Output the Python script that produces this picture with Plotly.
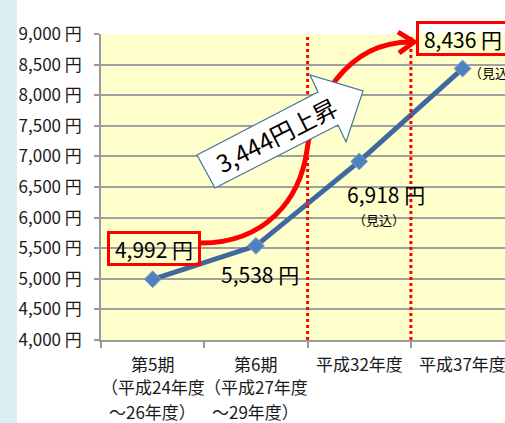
import plotly.graph_objects as go

# ---------------- data ----------------
categories = ["第5期", "第6期", "平成32年度", "平成37年度"]
category_lines = [
    ["第5期", "（平成24年度", "～26年度）"],
    ["第6期", "（平成27年度", "～29年度）"],
    ["平成32年度"],
    ["平成37年度"],
]
values = [4992, 5538, 6918, 8436]
value_labels = ["4,992 円", "5,538 円", "6,918 円", "8,436 円"]
ytick_vals = [4000, 4500, 5000, 5500, 6000, 6500, 7000, 7500, 8000, 8500, 9000]
ytick_text = ["4,000 円", "4,500 円", "5,000 円", "5,500 円", "6,000 円", "6,500 円",
              "7,000 円", "7,500 円", "8,000 円", "8,500 円", "9,000 円"]
increase_text = "3,444円上昇"
estimate_text = "（見込）"

# ---------------- layout geometry (pixels) ----------------
W, H = 505, 423
L, T, B = 101, 34, 83
PW, PH = W - L, H - T - B


def px(x):
    return (x - L) / PW


def py(y):
    return (H - B - y) / PH


FONT = "Noto Sans CJK JP"
RED = "#FF0000"

fig = go.Figure()
fig.add_trace(go.Scatter(
    x=list(range(len(categories))), y=values, mode="lines+markers",
    line=dict(color="#3E689E", width=5),
    marker=dict(symbol="diamond", size=13, color="#4F81BD",
                line=dict(color="#7FA3D3", width=1)),
    hoverinfo="skip", showlegend=False, cliponaxis=False,
))

shapes = []
# left light-blue strip
shapes.append(dict(type="rect", xref="paper", yref="paper", layer="below",
                   x0=px(0), x1=px(17), y0=py(H), y1=py(0),
                   fillcolor="#DAEEF3", line=dict(width=0)))
# red dotted separators at category boundaries
for b in [1.5, 2.5]:
    shapes.append(dict(type="line", xref="x", yref="paper", x0=b, x1=b, y0=0, y1=1,
                       line=dict(color=RED, width=3, dash="dot"), layer="above"))


def P(x, y):
    return f"{px(x):.5f},{py(y):.5f}"


# red curved arrow
curve = (f"M {P(201,243)} C {P(265,243)} {P(300,200)} {P(307,150)} "
         f"C {P(313,105)} {P(345,42)} {P(411,42)}")
shapes.append(dict(type="path", xref="paper", yref="paper", path=curve,
                   line=dict(color=RED, width=5), layer="above"))
head = f"M {P(398,32)} L {P(414,42)} L {P(399,53)}"
shapes.append(dict(type="path", xref="paper", yref="paper", path=head,
                   line=dict(color=RED, width=5), layer="above"))
# white block arrow
block = (f"M {P(197,155)} L {P(318,92)} L {P(310,75)} L {P(363,91)} "
         f"L {P(346,142)} L {P(338,125)} L {P(215,188)} Z")
shapes.append(dict(type="path", xref="paper", yref="paper", path=block,
                   fillcolor="white", line=dict(color="#41719C", width=1.2), layer="above"))

annotations = []
# value labels
val_font = dict(family=FONT, size=21, color="black")
offsets = [(1, 31), (4, -28), (27, -33), (0, 30)]
boxed = [True, False, False, True]
for i, (v, lab) in enumerate(zip(values, value_labels)):
    a = dict(x=i, y=v, xref="x", yref="y", text=lab, showarrow=False,
             font=val_font, xshift=offsets[i][0], yshift=offsets[i][1],
             xanchor="center", yanchor="middle")
    if boxed[i]:
        a.update(bordercolor=RED, borderwidth=3, borderpad=1, width=86, height=27)
    annotations.append(a)
# estimate notes
annotations.append(dict(x=2, y=values[2], xref="x", yref="y", text=estimate_text,
                        showarrow=False, font=dict(family=FONT, size=13, color="black"),
                        xanchor="center", yanchor="middle", xshift=20, yshift=-58))
annotations.append(dict(x=3, y=values[3], xref="x", yref="y", text=estimate_text,
                        showarrow=False, xanchor="left", yanchor="middle",
                        font=dict(family=FONT, size=13, color="black"),
                        xshift=4, yshift=-4))
# arrow text
annotations.append(dict(x=px(276), y=py(134), xref="paper", yref="paper",
                        xanchor="center", yanchor="middle",
                        text=increase_text, showarrow=False, textangle=-27,
                        font=dict(family=FONT, size=24, color="black")))
# category labels (multi-line)
line_y = [363, 387, 411]
for i, lines in enumerate(category_lines):
    for j, t in enumerate(lines):
        annotations.append(dict(x=i, y=py(line_y[j]), xref="x", yref="paper",
                                text=t, showarrow=False, xanchor="center", yanchor="middle",
                                font=dict(family=FONT, size=17, color="#1a1a1a")))

fig.update_layout(
    width=W, height=H,
    margin=dict(l=L, r=0, t=T, b=B),
    paper_bgcolor="white",
    plot_bgcolor="#FFFFCC",
    shapes=shapes,
    annotations=annotations,
    xaxis=dict(
        type="linear", range=[-0.5, -0.5 + PW / 103.3],
        tickvals=[-0.5, 0.5, 1.5, 2.5, 3.5], showticklabels=False,
        ticks="outside", ticklen=6, tickcolor="#9A9A9A", tickwidth=1.5,
        showgrid=False, zeroline=False,
        showline=True, linecolor="#9A9A9A", linewidth=1.5,
    ),
    yaxis=dict(
        range=[4000, 9000], tickvals=ytick_vals, ticktext=ytick_text,
        ticks="outside", ticklen=5, tickcolor="#9A9A9A", tickwidth=1.5,
        showgrid=True, gridcolor="#A0A0A0", gridwidth=1.5,
        zeroline=False, showline=True, linecolor="#9A9A9A", linewidth=1.5,
        tickfont=dict(family=FONT, size=17, color="#1a1a1a"),
        ticklabelstandoff=9,
    ),
)

fig.write_html("out.html", config={"displayModeBar": False},
               post_script="document.body.style.margin='0';document.body.style.overflow='hidden';")
